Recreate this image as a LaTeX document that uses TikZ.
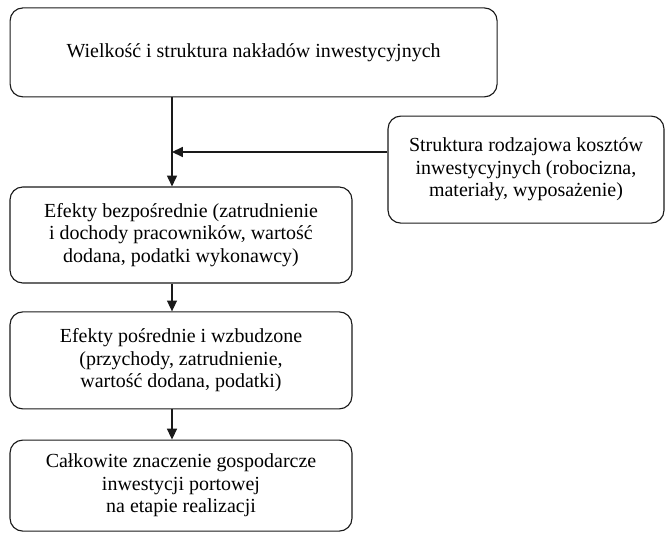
\documentclass[tikz,border=0pt]{standalone}
\usepackage{fontspec}
\setmainfont{Liberation Serif}
\usepackage{tikz}
\usetikzlibrary{arrows.meta,positioning}
\definecolor{ink}{HTML}{1A1A1A}
\definecolor{paper}{HTML}{FFFFFF}
\tikzset{
  flowarr/.style={-{Triangle[length=2.7mm,width=2.5mm]},line width=0.8pt,color=ink},
  card/.style={draw=ink,fill=paper,line width=0.8pt,rounded corners=3.2mm,align=center,inner sep=0pt,font=\fontsize{14.2}{16}\selectfont}
}
\begin{document}
\begin{tikzpicture}[x=1cm,y=1cm,>=Latex]
  \useasboundingbox (0,0) rectangle (16.65,13.35);
  \node[card,minimum width=12.175cm,minimum height=2.225cm] (wnk) at (6.34,12.04)
    {Wielkość i struktura nakładów inwestycyjnych};
  \node[card,minimum width=6.9cm,minimum height=2.675cm] (koszt) at (13.15,9.11)
    {Struktura rodzajowa kosztów\\inwestycyjnych (robocizna,\\materiały, wyposażenie)};
  \node[card,minimum width=8.55cm,minimum height=2.4cm] (bezp) at (4.525,7.475)
    {Efekty bezpośrednie (zatrudnienie\\i dochody pracowników, wartość\\dodana, podatki wykonawcy)};
  \node[card,minimum width=8.55cm,minimum height=2.425cm] (posr) at (4.525,4.34)
    {Efekty pośrednie i wzbudzone\\(przychody, zatrudnienie,\\wartość dodana, podatki)};
  \node[card,minimum width=8.55cm,minimum height=2.275cm] (calk) at (4.525,1.21)
    {Całkowite znaczenie gospodarcze\\inwestycji portowej\\na etapie realizacji};

  \coordinate (j) at (4.3,9.55);

  \draw[flowarr] (j |- wnk.south) -- (j |- bezp.north);
  \draw[flowarr] (koszt.west |- j) -- (j);
  \draw[flowarr] (j |- bezp.south) -- (j |- posr.north);
  \draw[flowarr] (j |- posr.south) -- (j |- calk.north);
\end{tikzpicture}
\end{document}
